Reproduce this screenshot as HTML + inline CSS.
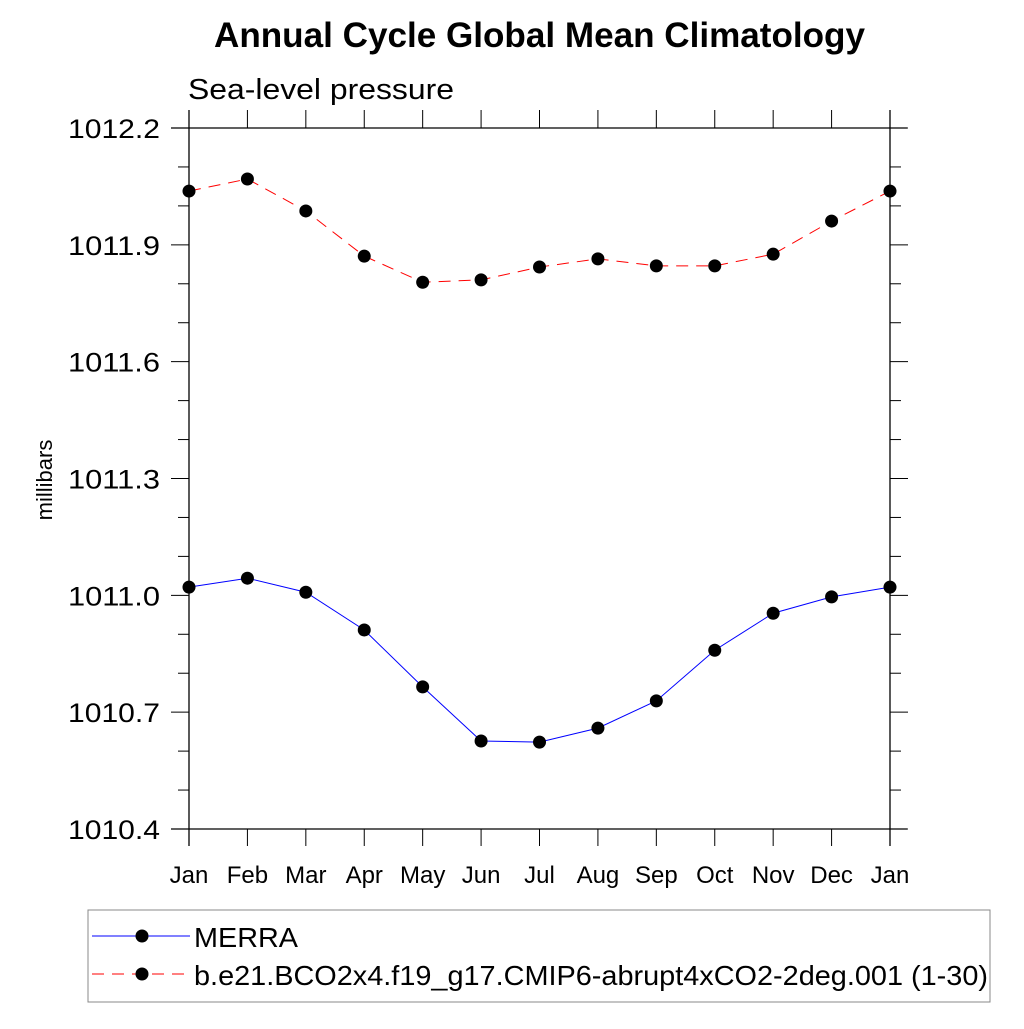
<!DOCTYPE html>
<html><head><meta charset="utf-8"><style>
body{margin:0;background:#fff}
svg text{font-family:"Liberation Sans",sans-serif}
</style></head><body>
<svg id="c" width="1024" height="1024" xmlns="http://www.w3.org/2000/svg">
<text x="214" y="47" font-size="35" font-weight="bold" textLength="651" lengthAdjust="spacingAndGlyphs">Annual Cycle Global Mean Climatology</text>
<text x="188" y="99" font-size="29" textLength="266" lengthAdjust="spacingAndGlyphs">Sea-level pressure</text>
<text transform="translate(52,480) rotate(-90)" font-size="22" text-anchor="middle">millibars</text>
<g id="axes"></g><g id="series"></g>
<rect x="88" y="910" width="902" height="92" fill="none" stroke="#888" stroke-width="1"/>
<g>
<line x1="92" y1="936" x2="190" y2="936" stroke="#00f" stroke-width="1"/><circle cx="142" cy="936" r="6.5"/>
<text x="194" y="947" font-size="28" textLength="104" lengthAdjust="spacingAndGlyphs">MERRA</text></g>
<g>
<line x1="92" y1="974" x2="190" y2="974" stroke="#f00" stroke-width="1" stroke-dasharray="12,8"/><circle cx="142" cy="974" r="6.5"/>
<text x="194" y="985" font-size="28" textLength="794" lengthAdjust="spacingAndGlyphs">b.e21.BCO2x4.f19_g17.CMIP6-abrupt4xCO2-2deg.001 (1-30)</text></g>
</svg>
<script>
const months=["Jan","Feb","Mar","Apr","May","Jun","Jul","Aug","Sep","Oct","Nov","Dec","Jan"];
const yTicks=[1010.4,1010.7,1011.0,1011.3,1011.6,1011.9,1012.2];
const merra=[1011.021,1011.044,1011.008,1010.911,1010.765,1010.626,1010.623,1010.659,1010.729,1010.859,1010.954,1010.996,1011.021];
const model=[1012.038,1012.069,1011.987,1011.871,1011.804,1011.810,1011.843,1011.864,1011.846,1011.846,1011.876,1011.961,1012.038];
const NS="http://www.w3.org/2000/svg";
const X0=189,X1=890,Y0=128,Y1=829,ymin=1010.4,ymax=1012.2;
function xs(i){return X0+(X1-X0)*i/(months.length-1);}
function ys(v){return Y1-(v-ymin)/(ymax-ymin)*(Y1-Y0);}
function mk(t,a,p){const e=document.createElementNS(NS,t);for(const k in a)e.setAttribute(k,a[k]);p.appendChild(e);return e;}
const ax=document.getElementById('axes');
let l=mk('line',{x1:X0,y1:110,x2:X0,y2:846,stroke:'#000','stroke-width':1.3},ax);


l=mk('line',{x1:171,y1:Y0,x2:907,y2:Y0,stroke:'#000','stroke-width':1.3},ax);


l=mk('line',{x1:171,y1:Y1,x2:907,y2:Y1,stroke:'#000','stroke-width':1.3},ax);


l=mk('line',{x1:X1,y1:110,x2:X1,y2:846,stroke:'#000','stroke-width':1.3},ax);


months.forEach((m,i)=>{const x=xs(i);
mk('line',{x1:x,y1:110,x2:x,y2:Y0,stroke:'#000'},ax);
mk('line',{x1:x,y1:Y1,x2:x,y2:846,stroke:'#000'},ax);
const t=mk('text',{x:x,y:883,'font-size':24,'text-anchor':'middle'},ax);t.textContent=m;

});
for(let v=ymin;v<=ymax+1e-6;v+=0.1){const y=ys(v);const major=Math.abs(((v-ymin)/0.3)-Math.round((v-ymin)/0.3))<1e-3;
const len=major?18:11;
mk('line',{x1:X0-len,y1:y,x2:X0,y2:y,stroke:'#000'},ax);
mk('line',{x1:X1,y1:y,x2:X1+len,y2:y,stroke:'#000'},ax);}
yTicks.forEach(v=>{const t=mk('text',{x:68,y:ys(v)+10,'font-size':27,textLength:92,lengthAdjust:'spacingAndGlyphs'},ax);t.textContent=v.toFixed(1);

});
const se=document.getElementById('series');
function draw(vals,col,dash,name){const p=mk('polyline',{points:vals.map((v,i)=>xs(i)+','+ys(v)).join(' '),fill:'none',stroke:col,'stroke-width':1,'stroke-dasharray':dash},se);


vals.forEach((v,i)=>{const c=mk('circle',{cx:xs(i),cy:ys(v),r:6.5},se);

});}
draw(model,'#f00','12,8','model');
draw(merra,'#00f','none','merra');
</script>
</body></html>
